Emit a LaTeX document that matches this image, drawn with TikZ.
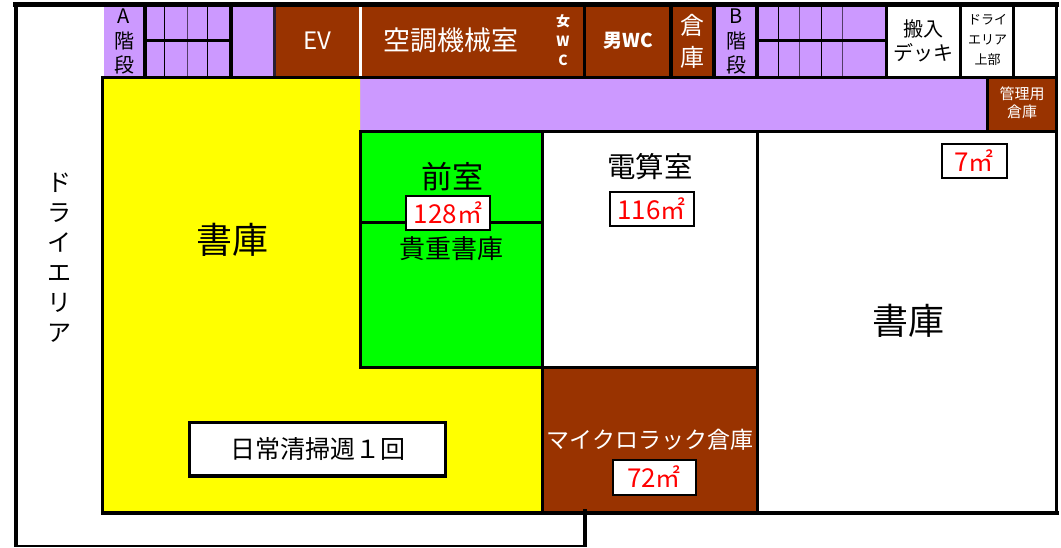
\documentclass[tikz,border=0pt]{standalone}
\usepackage{fontspec}
\setmainfont{Noto Sans CJK JP}
\definecolor{purp}{HTML}{CC99FF}
\definecolor{brn}{HTML}{993300}
\definecolor{yel}{HTML}{FFFF00}
\definecolor{grn}{HTML}{00FF00}
\newcommand{\fsl}[2]{\fontsize{#1}{#2}\selectfont}
\newcommand{\areatxt}[1]{{\fsl{26}{26}#1\fsl{25}{26}㎡}}
\tikzset{
  x=1pt,y=-1pt,
  stairline/.style={line width=1pt,black},
  grayline/.style={line width=1pt,black!60!purp},
  lbl/.style={inner sep=0pt,align=center,text=black},
  wlbl/.style={lbl,text=white},
  area/.style={draw=black,line width=2pt,fill=white,text=red,inner sep=0pt,anchor=center},
}
\begin{document}
\begin{tikzpicture}
\useasboundingbox (0,0) rectangle (1061,547);
\fill[white] (0,0) rectangle (1061,547);
% fills, top row
\fill[purp] (104,7) rectangle (276,77);
\fill[brn] (276,7) rectangle (669,77);
\fill[brn] (673,7) rectangle (712,77);
\fill[purp] (716,7) rectangle (885,77);
\fill[purp] (360,79) rectangle (987,131);
\fill[brn] (987,79) rectangle (1055,131);
\fill[yel] (104,79) -- (360,79) -- (360,368) -- (542,368) -- (542,512) -- (104,512) -- cycle;
\fill[grn] (360,132) rectangle (542,367);
\fill[brn] (542,368) rectangle (757,512);
% stair details
\foreach \xx in {164.5,207.5,778,821.5}{\draw[stairline] (\xx,7) -- (\xx,76);}
\foreach \xx in {187,799,842}{\draw[grayline] (\xx,7) -- (\xx,76);}
\draw[line width=3pt] (146,40.5) -- (231,40.5);
\draw[line width=3pt] (757,40.5) -- (886,40.5);
% row dividers
\draw[line width=3.5pt] (145,7) -- (145,77);
\draw[line width=3.5pt] (231,7) -- (231,77);
\draw[line width=3pt,black!80!purp] (274.5,7) -- (274.5,77);
\draw[line width=3pt,white] (360.5,7) -- (360.5,76);
\draw[line width=3.5pt] (584.5,7) -- (584.5,77);
\draw[line width=3.5pt] (671,7) -- (671,77);
\draw[line width=3.5pt] (714,7) -- (714,77);
\draw[line width=3.5pt] (757,7) -- (757,77);
\draw[line width=3pt] (886.5,7) -- (886.5,77);
\draw[line width=3pt] (960.5,7) -- (960.5,77);
\draw[line width=3.5pt] (1013.5,7) -- (1013.5,77);
\draw[line width=3pt] (987,77) -- (987,131);
% structural lines
\draw[line width=3pt] (101,77.5) -- (1057,77.5);
\draw[line width=3pt] (359,131.5) -- (1057,131.5);
\draw[line width=3pt] (102.5,76) -- (102.5,514);
\draw[line width=3pt] (360.5,130) -- (360.5,369);
\draw[line width=3pt] (542.5,130) -- (542.5,514);
\draw[line width=3pt] (757.5,130) -- (757.5,514);
\draw[line width=3pt] (360,367.5) -- (757,367.5);
\draw[line width=3pt] (360,222) -- (542,222);
\draw[line width=3.5pt] (101,513) -- (1059,513);
% outer
\draw[line width=5pt] (13,4.5) -- (1059,4.5);
\draw[line width=4pt] (15.5,2) -- (15.5,547);
\draw[line width=3.5pt] (1056.5,3) -- (1056.5,515);
\draw[line width=1.5pt] (15,546.2) -- (585,546.2);
\draw[line width=4pt] (584.5,509) -- (584.5,547);
% labels
\node[lbl,font=\fsl{20}{24.5}] (stairA) at (124,41.5) {A\\階\\段};
\node[wlbl,font=\fsl{24}{24}] (ev) at (317,41) {EV};
\node[wlbl,font=\fsl{27}{27}] (kucho) at (451,40) {空調機械室};
\node[wlbl,font=\fsl{14}{19.5}\bfseries] (jowc) at (563,40.5) {女\\W\\C};
\node[wlbl,font=\fsl{19}{19}\bfseries] (danwc) at (628,41) {男WC};
\node[wlbl,font=\fsl{24}{32}] (soko) at (692,41) {倉\\庫};
\node[lbl,font=\fsl{20}{24.5}] (stairB) at (736,41.5) {B\\階\\段};
\node[lbl,font=\fsl{20}{24}] (hannyu) at (923.5,41) {搬入\\デッキ};
\node[lbl,font=\fsl{13}{20}] (dryup) at (987.5,40) {ドライ\\エリア\\上部};
\node[wlbl,font=\fsl{15}{18}] (kanri) at (1022,103) {管理用\\倉庫};
\node[lbl,font=\fsl{24}{30}] (dry) at (59,258) {ド\\ラ\\イ\\エ\\リ\\ア};
\node[lbl,font=\fsl{36}{36}] (shoko1) at (232,240) {書庫};
\node[lbl,font=\fsl{31}{31}] (zenshitsu) at (452,177) {前室};
\node[lbl,font=\fsl{26}{26}] (kicho) at (451,249) {貴重書庫};
\node[lbl,font=\fsl{28.5}{28.5}] (densan) at (650,167) {電算室};
\node[lbl,font=\fsl{36}{36}] (shoko2) at (908,321) {書庫};
\node[wlbl,font=\fsl{23}{23}] (micro) at (650,440) {マイクロラック倉庫};
\node[area,minimum width=84.5pt,minimum height=34pt] (a128) at (448,212.5) {\areatxt{128}};
\node[area,minimum width=84pt,minimum height=34.5pt] (a116) at (651.5,209) {\areatxt{116}};
\node[area,minimum width=65pt,minimum height=34pt] (a7) at (974,160.5) {\areatxt{7}};
\node[area,minimum width=83pt,minimum height=35pt] (a72) at (654,477) {\areatxt{72}};
\node[draw=black,line width=3.5pt,fill=white,inner sep=0pt,minimum width=256pt,minimum height=53.5pt,font=\fsl{25}{25}] (nichijo) at (317.5,449) {日常清掃週１回};
\end{tikzpicture}
\end{document}
